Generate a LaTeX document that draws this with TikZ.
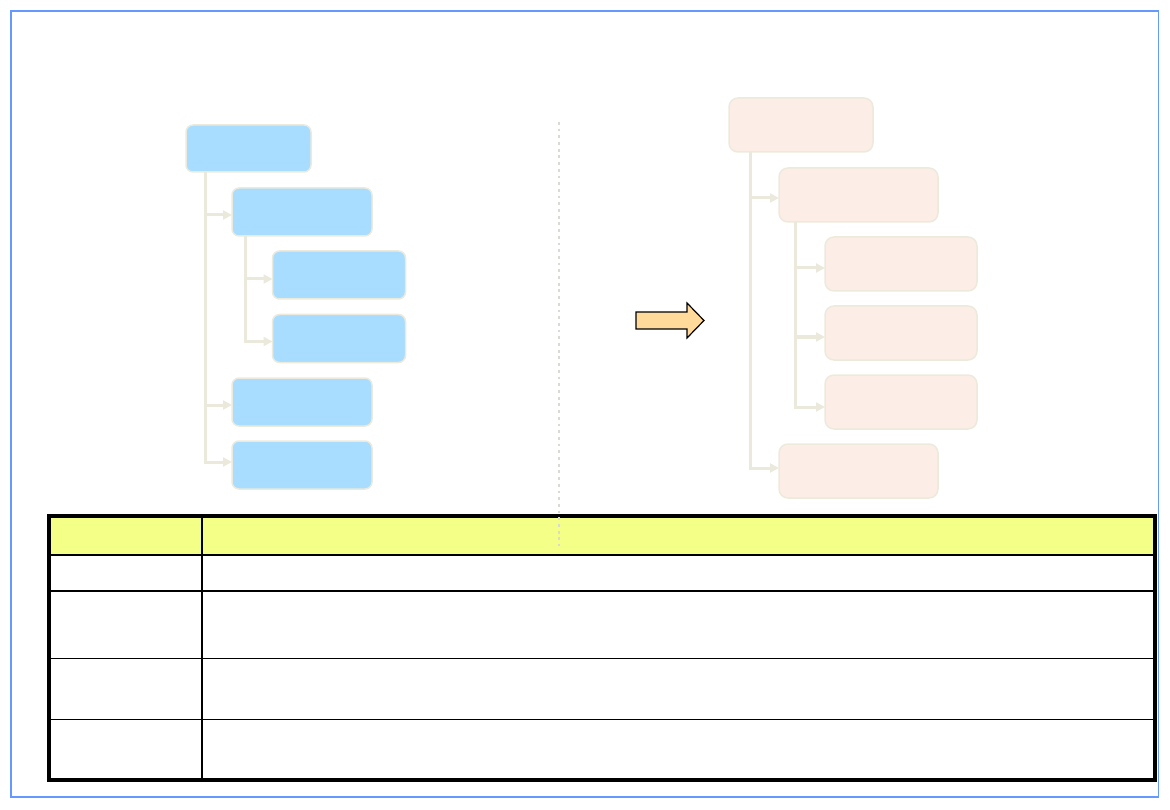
\documentclass[tikz,border=0pt]{standalone}
\usetikzlibrary{arrows.meta}
\definecolor{frameblue}{HTML}{6699FF}
\definecolor{lbfill}{HTML}{A8DDFF}
\definecolor{rpfill}{HTML}{FCEEE6}
\definecolor{boxedge}{HTML}{ECEADC}
\definecolor{conn}{HTML}{EBE9DB}
\definecolor{dotgrey}{HTML}{DADAD2}
\definecolor{arrowfill}{HTML}{FFDA9B}
\definecolor{headyellow}{HTML}{F4FF88}
\tikzset{
  lbox/.style={draw=boxedge, line width=1.5pt, fill=lbfill, rounded corners=7pt, inner sep=0pt, outer sep=0pt},
  rbox/.style={draw=boxedge, line width=1.5pt, fill=rpfill, rounded corners=9pt, inner sep=0pt, outer sep=0pt},
  link/.style={draw=conn, line width=3pt, -{Triangle[length=9pt,width=9pt]}},
  trunk/.style={draw=conn, line width=3pt},
  tablethick/.style={line width=4pt, draw=black},
  tablemid/.style={line width=2.5pt, draw=black},
  tablethin/.style={line width=1.4pt, draw=black},
}
\begin{document}
\begin{tikzpicture}[x=1pt,y=-1pt]
\useasboundingbox (0,0) rectangle (1170,810);
% outer frame
\draw[frameblue, line width=1.3pt] (11,11) rectangle (1158.5,797);

% left tree
\node[lbox, minimum width=125pt, minimum height=47pt] (LA) at (248.5,148.5) {};
\node[lbox, minimum width=140pt, minimum height=48pt] (LB) at (302,212) {};
\node[lbox, minimum width=133pt, minimum height=48pt] (LC) at (339,275) {};
\node[lbox, minimum width=133pt, minimum height=48pt] (LD) at (339,338.5) {};
\node[lbox, minimum width=140pt, minimum height=48pt] (LE) at (302,402) {};
\node[lbox, minimum width=140pt, minimum height=48pt] (LF) at (302,465) {};
\coordinate (LT1) at (205,172);
\coordinate (LT2) at (245,236);
\draw[trunk] (LT1) -- (205,462);
\draw[trunk] (LT2) -- (245,341.5);
\draw[link] (205,215) -- ([yshift=-3pt]LB.west);
\draw[link] (205,405) -- ([yshift=-3pt]LE.west);
\draw[link] (203.5,462) -- ([yshift=3pt]LF.west);
\draw[link] (245,279) -- ([yshift=-4pt]LC.west);
\draw[link] (243.5,341.5) -- ([yshift=-3pt]LD.west);

% right tree
\node[rbox, minimum width=144pt, minimum height=54pt] (RA) at (801,125) {};
\node[rbox, minimum width=159pt, minimum height=54pt] (RB) at (858.5,195) {};
\node[rbox, minimum width=152pt, minimum height=54pt] (RC) at (901,264) {};
\node[rbox, minimum width=152pt, minimum height=54pt] (RD) at (901,333) {};
\node[rbox, minimum width=152pt, minimum height=54pt] (RE) at (901,402) {};
\node[rbox, minimum width=159pt, minimum height=54pt] (RF) at (858.5,471) {};
\coordinate (RT1) at (750,152);
\coordinate (RT2) at (795,222);
\draw[trunk] (RT1) -- (750,468);
\draw[trunk] (RT2) -- (795,407);
\draw[link] (750,198) -- ([yshift=-3pt]RB.west);
\draw[link] (748.5,468) -- ([yshift=3pt]RF.west);
\draw[link] (795,268) -- ([yshift=-4pt]RC.west);
\draw[link] (795,337) -- ([yshift=-4pt]RD.west);
\draw[link] (793.5,407) -- ([yshift=-5pt]RE.west);

% block arrow
\draw[black, line width=1.2pt, fill=arrowfill, line join=miter]
  (636,312) -- (687,312) -- (687,303) -- (704,320.5) -- (687,338) -- (687,329) -- (636,329) -- cycle;

% table
\fill[headyellow] (49,516) rectangle (1155,555);
\draw[tablethin] (202,516) -- (202,780);
\draw[tablemid] (49,555) -- (1155,555);
\draw[tablemid] (49,591) -- (1155,591);
\draw[tablethin] (49,658.5) -- (1155,658.5);
\draw[tablethin] (49,719.5) -- (1155,719.5);
\draw[tablethick] (49,516) rectangle (1155,780);

% dotted divider
\coordinate (DT) at (559,122);
\coordinate (DB) at (559,546);
\draw[dotgrey, line width=2.8pt, dash pattern=on 2.8pt off 3.9pt] (DT) -- (DB);
\end{tikzpicture}
\end{document}
